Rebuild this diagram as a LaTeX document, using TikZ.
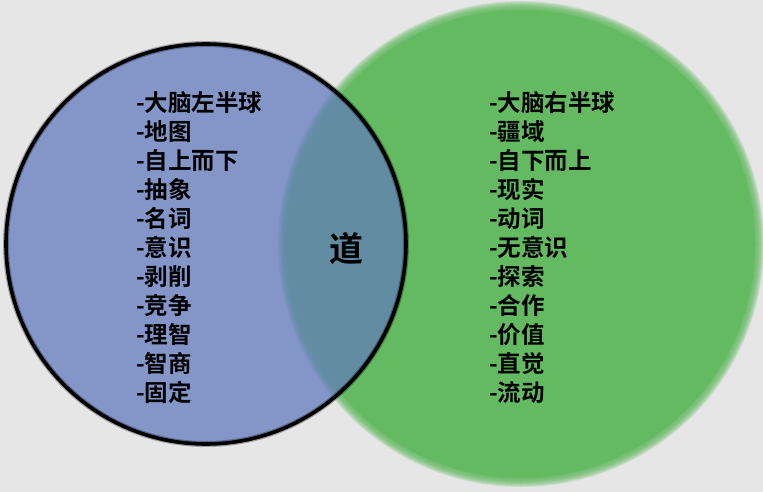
\documentclass[tikz,border=0pt]{standalone}
\usepackage{fontspec}
\newfontfamily\cjk{Noto Sans CJK SC}[BoldFont={Noto Sans CJK SC Bold}]
\definecolor{bgc}{RGB}{230,230,230}
\definecolor{bluec}{RGB}{131,150,199}
\definecolor{greenc}{RGB}{99,186,97}
\definecolor{lensc}{RGB}{97,140,161}
\tikzset{
  item/.style={anchor=base west, inner sep=0pt, font=\cjk\bfseries\fontsize{23.5}{27}\selectfont, text=black},
  center label/.style={inner sep=0pt, font=\cjk\bfseries\fontsize{34}{40}\selectfont, text=black}
}
\begin{document}
\begin{tikzpicture}[x=1pt,y=-1pt]
\fill[bgc] (0,0) rectangle (763,492);
\useasboundingbox (0,0) rectangle (763,492);
% green circle with soft edge
\coordinate (gc) at (521,244);
\coordinate (bc) at (206,244);
\foreach \k in {0,...,9}{
  \fill[greenc, fill opacity=0.2] (gc) circle[radius={243-\k}];
}
\fill[greenc] (gc) circle[radius=234];
% blue circle
\fill[bluec] (bc) circle[radius=200];
% lens
\begin{scope}
  \clip (bc) circle[radius=200];
  \foreach \k in {0,...,9}{
    \fill[lensc, fill opacity=0.2] (gc) circle[radius={243-\k}];
  }
  \fill[lensc] (gc) circle[radius=234];
\end{scope}
% border of blue circle
\draw[black, opacity=0.3, line width=6pt] (bc) circle[radius=200];
\draw[black, line width=3.6pt] (bc) circle[radius=200];
% left list
\foreach \t [count=\i] in {大脑左半球,地图,自上而下,抽象,名词,意识,剥削,竞争,理智,智商,固定}{
  \node[item] (l\i) at (136,{112+28.9*(\i-1)}) {-\t};
}
% right list
\foreach \t [count=\i] in {大脑右半球,疆域,自下而上,现实,动词,无意识,探索,合作,价值,直觉,流动}{
  \node[item] (r\i) at (489,{112+28.9*(\i-1)}) {-\t};
}
\node[center label] (dao) at (346,248) {道};
\end{tikzpicture}
\end{document}
